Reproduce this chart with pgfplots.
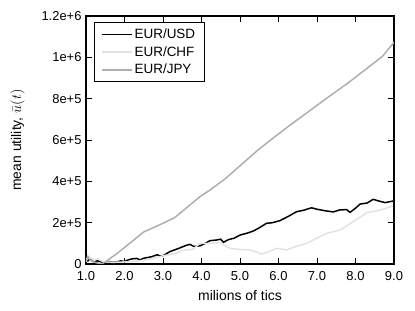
\documentclass[border=0pt]{standalone}
\usepackage{pgfplots}
\pgfplotsset{compat=1.18}
\usepackage{fontspec}
\setmainfont{Liberation Sans}
\definecolor{chf}{HTML}{E2E2E2}
\definecolor{jpy}{HTML}{AEAEAE}
\begin{document}
\fontsize{13}{15}\selectfont
\begin{tikzpicture}
\begin{axis}[
  scale only axis, width=308bp, height=248bp,
  xmin=1, xmax=9, ymin=0, ymax=1.2e6,
  xtick={1,2,...,9},
  xticklabels={1.0,2.0,3.0,4.0,5.0,6.0,7.0,8.0,9.0},
  ytick={0,2e5,4e5,6e5,8e5,1e6,1.2e6},
  yticklabels={0,2e+5,4e+5,6e+5,8e+5,1e+6,1.2e+6},
  scaled y ticks=false,
  tick align=inside, major tick length=6bp,
  axis line style={line width=1.2pt},
  tick style={line width=0.8pt, black},
  xlabel={milions of tics},
  ylabel={mean utility, $\bar{u}(t)$},
  xticklabel style={yshift=-3pt},
  xlabel style={yshift=-1pt},
  ylabel style={yshift=8pt},
  tick label style={font=\fontsize{13}{15}\selectfont},
  label style={font=\fontsize{14}{16}\selectfont},
  legend style={at={(0.025,0.975)}, anchor=north west, draw=black, line width=1pt,
    font=\fontsize{13.5}{16}\selectfont, row sep=2pt, inner xsep=7pt, inner ysep=4pt},
  legend cell align=left,
  legend image code/.code={\draw[#1, line width=1.4pt] (0bp,0bp) -- (21bp,0bp); \path (0bp,0bp) -- (30bp,0bp);},
  every axis plot/.append style={line width=1.5pt},
]
\addplot[black] coordinates {
(1.0,0.02e6)(1.05,0.015e6)(1.1,0.025e6)(1.2,0.01e6)(1.3,0.015e6)(1.4,0.01e6)(1.5,0.005e6)(1.6,0.012e6)(1.7,0.008e6)(1.8,0.01e6)(1.9,0.015e6)(2.0,0.012e6)(2.1,0.02e6)(2.2,0.025e6)(2.32,0.027e6)(2.4,0.02e6)(2.5,0.028e6)(2.7,0.035e6)(2.85,0.045e6)(2.92,0.039e6)(3.0,0.04e6)(3.18,0.06e6)(3.4,0.075e6)(3.6,0.09e6)(3.7,0.095e6)(3.8,0.085e6)(3.96,0.088e6)(4.1,0.1e6)(4.22,0.113e6)(4.39,0.116e6)(4.5,0.12e6)(4.57,0.105e6)(4.7,0.118e6)(4.85,0.125e6)(5.0,0.14e6)(5.2,0.15e6)(5.35,0.16e6)(5.5,0.175e6)(5.69,0.197e6)(5.85,0.2e6)(6.04,0.21e6)(6.25,0.23e6)(6.47,0.253e6)(6.65,0.26e6)(6.86,0.272e6)(7.0,0.265e6)(7.2,0.258e6)(7.42,0.252e6)(7.6,0.262e6)(7.77,0.263e6)(7.86,0.25e6)(8.0,0.27e6)(8.12,0.29e6)(8.3,0.295e6)(8.46,0.313e6)(8.6,0.305e6)(8.77,0.297e6)(8.9,0.302e6)(9.0,0.305e6)
};
\addlegendentry{EUR/USD}
\addplot[chf] coordinates {
(1.0,0.01e6)(1.05,0.04e6)(1.1,0.03e6)(1.2,0.02e6)(1.3,0.025e6)(1.4,0.015e6)(1.5,0.01e6)(1.7,0.008e6)(2.0,0.01e6)(2.2,0.012e6)(2.5,0.018e6)(2.8,0.03e6)(3.0,0.04e6)(3.3,0.05e6)(3.5,0.065e6)(3.78,0.072e6)(3.96,0.1e6)(4.2,0.1e6)(4.48,0.103e6)(4.6,0.09e6)(4.74,0.076e6)(5.0,0.07e6)(5.26,0.068e6)(5.4,0.06e6)(5.56,0.048e6)(5.75,0.06e6)(5.95,0.076e6)(6.21,0.068e6)(6.45,0.085e6)(6.73,0.1e6)(7.0,0.125e6)(7.25,0.148e6)(7.6,0.164e6)(7.94,0.205e6)(8.29,0.248e6)(8.64,0.261e6)(8.97,0.281e6)
};
\addlegendentry{EUR/CHF}
\addplot[jpy] coordinates {
(1.0,0.015e6)(1.05,0.035e6)(1.1,0.02e6)(1.2,0.01e6)(1.3,0.005e6)(1.4,0.0)(1.5,0.01e6)(1.8,0.05e6)(2.0,0.08e6)(2.2,0.11e6)(2.5,0.155e6)(2.8,0.18e6)(3.0,0.197e6)(3.3,0.224e6)(3.6,0.27e6)(3.96,0.326e6)(4.22,0.358e6)(4.6,0.41e6)(5.17,0.503e6)(5.47,0.552e6)(5.9,0.615e6)(6.3,0.672e6)(6.8,0.74e6)(7.25,0.802e6)(7.8,0.875e6)(8.3,0.947e6)(8.7,1.005e6)(9.0,1.072e6)
};
\addlegendentry{EUR/JPY}
\end{axis}
\pgfresetboundingbox
\path[use as bounding box] ([shift={(-86bp,-47bp)}]current axis.south west) rectangle +(415bp,311bp);
\end{tikzpicture}
\end{document}
